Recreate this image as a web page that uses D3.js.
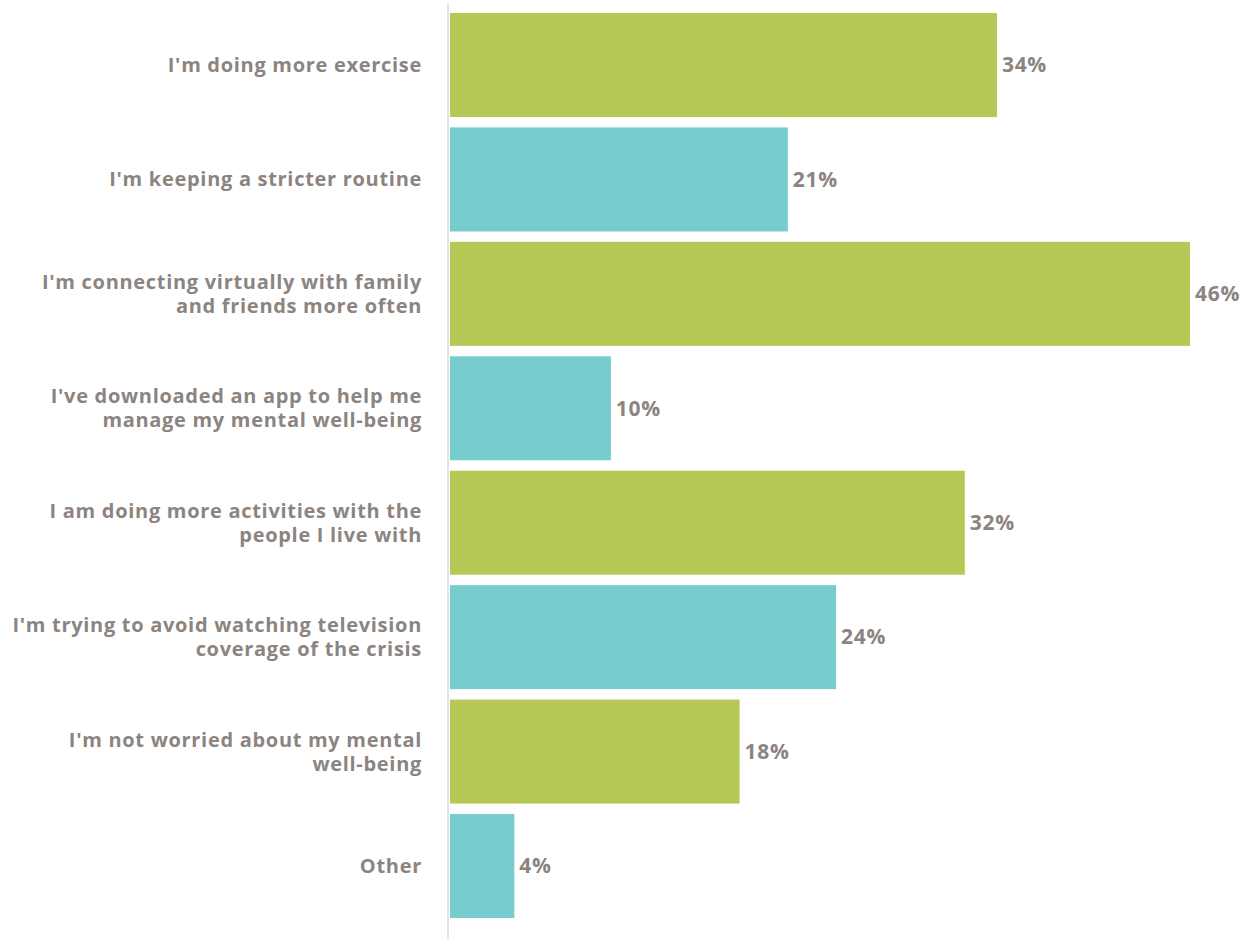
<html>
 <head>
  <script src="https://d3js.org/d3.v7.min.js"></script>
  <style>
   body{margin:0;background:#fff;}
   text{font-family:"Open Sans",Lato,sans-serif;font-weight:700;fill:#8c8480;letter-spacing:0.7px;}
  </style>
 </head>
 <body>
  <svg></svg>
  <script>
    var svgWidth=1253,svgHeight=939;

    // data
    var categories=[
      ["I'm doing more exercise"],
      ["I'm keeping a stricter routine"],
      ["I'm connecting virtually with family","and friends more often"],
      ["I've downloaded an app to help me","manage my mental well-being"],
      ["I am doing more activities with the","people I live with"],
      ["I'm trying to avoid watching television","coverage of the crisis"],
      ["I'm not worried about my mental","well-being"],
      ["Other"]
    ];
    var values=[34,21,46,10,32,24,18,4];
    var barColors=["#b6c855","#77cdcd"];

    var svg=d3.select("svg").attr("width",svgWidth).attr("height",svgHeight);

    var x=d3.scaleLinear().domain([0,46]).range([450,1190]);
    var y=d3.scaleBand().domain(d3.range(values.length))
            .range([7.8,923.2]).paddingInner(0.091).paddingOuter(0.0455);

    svg.selectAll("rect.bar").data(values).enter().append("rect")
       .attr("class","bar")
       .attr("x",x(0))
       .attr("y",function(d,i){return y(i);})
       .attr("width",function(d){return x(d)-x(0);})
       .attr("height",y.bandwidth())
       .attr("fill",function(d,i){return barColors[i%2];});

    // baseline
    svg.append("line").attr("x1",448).attr("x2",448).attr("y1",3).attr("y2",svgHeight)
       .attr("stroke","#e3e3e3").attr("stroke-width",2);

    svg.selectAll("text.val").data(values).enter().append("text")
       .attr("class","val")
       .attr("x",function(d){return x(d)+5;})
       .attr("y",function(d,i){return y(i)+y.bandwidth()/2;})
       .attr("dy","0.35em")
       .style("font-size","21px")
       .text(function(d){return d+"%";});

    var labels=svg.selectAll("text.cat").data(categories).enter().append("text")
       .attr("class","cat")
       .attr("text-anchor","end")
       .style("font-size","20px")
       .attr("y",function(d,i){return y(i)+y.bandwidth()/2;});
    labels.each(function(d){
      var t=d3.select(this), n=d.length;
      d.forEach(function(line,k){
        t.append("tspan").attr("x",422)
         .attr("dy",k==0?((0.35-(n-1)*0.6)+"em"):"1.2em")
         .text(line);
      });
    });
  </script>
 </body>
</html>
